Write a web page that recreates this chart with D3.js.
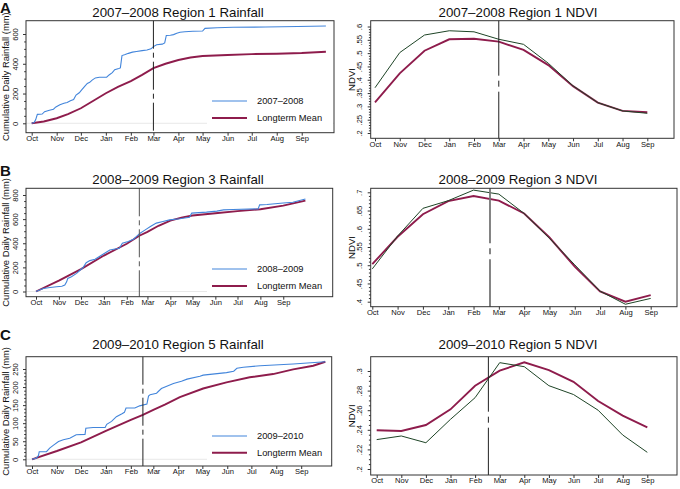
<!DOCTYPE html>
<html><head><meta charset="utf-8">
<script src="https://cdn.jsdelivr.net/npm/d3@7"></script>
<style>body{margin:0;background:#fff} text{font-family:"Liberation Sans",Arial,Helvetica,sans-serif;fill:#111}</style>
</head><body><svg id="c" width="680" height="489"></svg>
<script>
// ---------------- DATA ----------------
const months = ["Oct","Nov","Dec","Jan","Feb","Mar","Apr","May","Jun","Jul","Aug","Sep"];
const monthStartDays = [0,31,61,92,123,151,182,212,243,273,304,335];
const panelLetters = ["A","B","C"];
const rainTitles = ["2007–2008 Region 1 Rainfall","2008–2009 Region 3 Rainfall","2009–2010 Region 5 Rainfall"];
const ndviTitles = ["2007–2008 Region 1 NDVI","2008–2009 Region 3 NDVI","2009–2010 Region 5 NDVI"];
const seasonLabels = ["2007–2008","2008–2009","2009–2010"];
const meanLabel = "Longterm Mean";
const cutoffDays = [151,140,138];
const cutoffMonthIdx = [5,4.65,4.54];

// cumulative rainfall [day since Oct 1, mm]
const rainA_year = [[0,0],[3,5],[5,25],[7,60],[13,62],[16,78],[22,88],[27,95],[30,110],[35,125],[40,135],[44,140],[48,152],[52,160],[55,190],[59,205],[62,225],[66,250],[69,268],[72,275],[75,290],[79,305],[84,309],[93,310],[96,325],[100,340],[103,360],[108,368],[110,372],[112,455],[116,462],[120,470],[125,478],[130,482],[137,488],[143,492],[148,500],[151,515],[155,528],[162,532],[165,540],[167,590],[172,592],[176,596],[180,605],[184,612],[190,615],[200,618],[212,620],[215,638],[230,642],[250,645],[290,647],[330,650],[365,654]];
const rainA_mean = [[0,0],[15,12],[31,34],[45,62],[61,101],[76,150],[92,202],[107,245],[123,284],[137,325],[151,370],[166,400],[182,425],[197,442],[212,452],[243,459],[273,465],[304,467],[335,472],[365,481]];
const rainB_year = [[0,0],[10,25],[19,33],[28,39],[35,44],[39,53],[41.5,80],[43,108],[48,122],[55,150],[60,178],[64,200],[68,239],[73,256],[80,267],[87,294],[93,317],[100,344],[107,353],[113,358],[117,400],[125,414],[132,433],[137,461],[141,483],[148,511],[155,539],[163,567],[172,581],[181,594],[195,603],[208,615],[211,650],[231,658],[245,666],[254,677],[267,680],[301,685],[303,718],[313,721],[335,734],[348,740],[365,767]];
const rainB_mean = [[0,0],[31,90],[61,186],[92,298],[123,396],[140,462],[151,495],[166,545],[182,587],[197,612],[212,630],[243,649],[273,666],[304,682],[335,712],[365,753]];
const rainC_year = [[0,0],[5,3],[8,10],[9,21],[18,21],[22,31],[26,38],[33,49],[39,54],[47,58],[55,68],[66,69],[67,86],[76,88],[91,88],[93,97],[99,105],[105,118],[112,126],[115,130],[117,142],[128,142],[134,148],[143,153],[145,175],[147,179],[155,183],[161,196],[176,210],[186,216],[193,222],[209,230],[213,233],[242,240],[251,244],[255,252],[263,255],[284,259],[325,264],[365,270]];
const rainC_mean = [[0,0],[31,23],[61,47],[92,79],[123,109],[138,123],[151,137],[166,152],[184,172],[213,196],[242,213],[271,227],[300,236],[325,249],[350,259],[365,270]];
const rainA_ticks = [0,200,400,600];
const rainB_ticks = [0,200,400,600,800];
const rainC_ticks = [0,50,100,150,200,250];

// monthly NDVI
const ndviA_year = [.370,.502,.568,.584,.580,.552,.533,.462,.377,.314,.283,.274];
const ndviA_mean = [.315,.424,.509,.552,.554,.543,.512,.455,.376,.314,.283,.278];
const ndviB_year = [.490,.580,.656,.677,.706,.695,.642,.574,.501,.429,.393,.409];
const ndviB_mean = [.503,.578,.640,.676,.690,.677,.642,.576,.496,.428,.400,.418];
const ndviC_year = [.230,.2337,.2268,.2507,.2728,.3085,.3044,.285,.276,.260,.2347,.217];
const ndviC_mean = [.2395,.2388,.2449,.2609,.285,.3003,.3089,.301,.289,.2694,.2544,.2425];
const ndviA_ticks = [.2,.25,.3,.35,.4,.45,.5,.55,.6];
const ndviB_ticks = [.4,.45,.5,.55,.6,.65,.7];
const ndviC_ticks = [.2,.22,.24,.26,.28,.3];

// ---------------- LAYOUT ----------------
const BLUE = "#4285db", MAROON = "#8e1c4c", GREEN = "#1e4426", FRAME = "#333";
const svg = d3.select("#c");

const rainCfg = [
  {year:rainA_year, mean:rainA_mean, ticks:rainA_ticks, minor:50, fr:[26,20.7,334,132.7], xr:[31.7,325.9], yr:[123.3,34], yd:[0,600], leg:[101,118], cut:"#222", titleY:16.5, letterY:13},
  {year:rainB_year, mean:rainB_mean, ticks:rainB_ticks, minor:50, fr:[26,188.3,332.7,296.7], xr:[36,305.4], yr:[291.5,195], yd:[0,800], leg:[269,286], cut:"#555", titleY:183.5, letterY:176},
  {year:rainC_year, mean:rainC_mean, ticks:rainC_ticks, minor:10, fr:[26,356.7,331.7,466], xr:[32,325.3], yr:[459.3,369], yd:[0,250], leg:[436,452.7], cut:"#222", titleY:348.5, letterY:340}
];
const ndviCfg = [
  {year:ndviA_year, mean:ndviA_mean, ticks:ndviA_ticks, minor:.01, fr:[370.7,20.7,674,138.3], xr:[375,647.3], yr:[133,26.5], yd:[.2,.6], cut:"#222", cw:1, titleY:16.5},
  {year:ndviB_year, mean:ndviB_mean, ticks:ndviB_ticks, minor:.01, fr:[370.7,188.3,677,306.7], xr:[372.3,650.7], yr:[301.7,192.3], yd:[.4,.7], cut:"#777", cw:1.8, titleY:183.5},
  {year:ndviC_year, mean:ndviC_mean, ticks:ndviC_ticks, minor:.005, fr:[370.7,356.7,677,475], xr:[376.7,647.3], yr:[469,371], yd:[.2,.3], cut:"#222", cw:1, titleY:348.5}
];

function fmtNdvi(v){ return d3.format(".2~f")(v).replace(/^0/,""); }

function drawAxes(g, c, x, tickVals, tickLabels, yFmt, minorVals){
  const [x0,y0,x1,y1] = c.fr;
  const xa = g.append("g").attr("transform",`translate(0,${y1})`)
    .call(d3.axisBottom(x).tickValues(tickVals).tickSize(3).tickFormat((d,i)=>tickLabels[i]));
  xa.select(".domain").remove();
  xa.selectAll("line").attr("stroke",FRAME);
  xa.selectAll("text").attr("font-size",7.6).attr("dy","0.45em").attr("y",5).style("fill","#111");
  const y = c.y;
  const ya = g.append("g").attr("transform",`translate(${x0},0)`)
    .call(d3.axisLeft(y).tickValues(c.ticks).tickSize(3).tickFormat(yFmt));
  ya.select(".domain").remove();
  ya.selectAll("line").attr("stroke",FRAME);
  ya.selectAll("text").attr("font-size",7.6).attr("text-anchor","middle").attr("dy",null)
    .attr("x",null).attr("transform","translate(-8.5,0) rotate(-90)").style("fill","#111");
  const minor = g.append("g").attr("transform",`translate(${x0},0)`)
    .call(d3.axisLeft(y).tickValues(minorVals).tickSize(1.8).tickFormat(""));
  minor.select(".domain").remove();
  minor.selectAll("line").attr("stroke",FRAME);
}

function rangeVals(a,b,s){ const out=[]; for(let v=a; v<=b+1e-9; v+=s) out.push(+v.toFixed(4)); return out; }

rainCfg.forEach((c,i)=>{
  const g = svg.append("g");
  const [x0,y0,x1,y1] = c.fr;
  const x = d3.scaleLinear().domain([0,365]).range(c.xr);
  const y = d3.scaleLinear().domain(c.yd).range(c.yr);
  c.y = y;
  g.append("line").attr("x1",x0).attr("x2",x1).attr("y1",y(0)).attr("y2",y(0)).attr("stroke","#e2e2e2").attr("stroke-width",0.8);
  const line = d3.line().x(d=>x(d[0])).y(d=>y(d[1]));
  g.append("path").datum(c.mean).attr("d",line).attr("fill","none").attr("stroke",MAROON).attr("stroke-width",1.9);
  g.append("path").datum(c.year).attr("d",line).attr("fill","none").attr("stroke",BLUE).attr("stroke-width",1.1);
  g.append("line").attr("x1",x(cutoffDays[i])).attr("x2",x(cutoffDays[i])).attr("y1",y0).attr("y2",y1)
    .attr("stroke",c.cut).attr("stroke-width",1).attr("stroke-dasharray","28,4,5,4");
  g.append("rect").attr("x",207).attr("y",c.leg[0]-10).attr("width",x1-208).attr("height",y1-c.leg[0]+9).attr("fill","#fff");
  const items = [[seasonLabels[i],BLUE,1.1],[meanLabel,MAROON,1.9]];
  items.forEach((it,k)=>{
    const ly = c.leg[k];
    g.append("line").attr("x1",212).attr("x2",247).attr("y1",ly).attr("y2",ly).attr("stroke",it[1]).attr("stroke-width",it[2]);
    g.append("text").attr("x",257).attr("y",ly+3.3).attr("font-size",9.3).text(it[0]);
  });
  g.append("rect").attr("x",x0).attr("y",y0).attr("width",x1-x0).attr("height",y1-y0).attr("fill","none").attr("stroke",FRAME).attr("stroke-width",1);
  drawAxes(g, c, x, monthStartDays, months, d3.format("d"), rangeVals(c.yd[0], c.ticks[c.ticks.length-1], c.minor).filter(v=>!c.ticks.includes(v)));
  g.append("text").attr("x",178).attr("y",c.titleY).attr("text-anchor","middle").attr("font-size",13.3).text(rainTitles[i]);
  g.append("text").attr("transform",`translate(8.6,${(y0+y1)/2}) rotate(-90)`).attr("text-anchor","middle").attr("font-size",9.4).text("Cumulative Daily Rainfall (mm)");
  g.append("text").attr("x",0).attr("y",c.letterY).attr("font-size",15).attr("font-weight","bold").text(panelLetters[i]);
});

ndviCfg.forEach((c,i)=>{
  const g = svg.append("g");
  const [x0,y0,x1,y1] = c.fr;
  const x = d3.scaleLinear().domain([0,11]).range(c.xr);
  const y = d3.scaleLinear().domain(c.yd).range(c.yr);
  c.y = y;
  const line = d3.line().x((d,k)=>x(k)).y(d=>y(d));
  g.append("path").datum(c.mean).attr("d",line).attr("fill","none").attr("stroke",MAROON).attr("stroke-width",1.9);
  g.append("path").datum(c.year).attr("d",line).attr("fill","none").attr("stroke",GREEN).attr("stroke-width",1);
  g.append("line").attr("x1",x(cutoffMonthIdx[i])).attr("x2",x(cutoffMonthIdx[i])).attr("y1",y0).attr("y2",y1)
    .attr("stroke",c.cut).attr("stroke-width",c.cw).attr("stroke-dasharray","55,5,6,5");
  g.append("rect").attr("x",x0).attr("y",y0).attr("width",x1-x0).attr("height",y1-y0).attr("fill","none").attr("stroke",FRAME).attr("stroke-width",1);
  drawAxes(g, c, x, d3.range(12), months, fmtNdvi, rangeVals(c.yd[0], c.ticks[c.ticks.length-1], c.minor).filter(v=>!c.ticks.some(t=>Math.abs(t-v)<1e-6)));
  g.append("text").attr("x",518).attr("y",c.titleY).attr("text-anchor","middle").attr("font-size",13.3).text(ndviTitles[i]);
  g.append("text").attr("transform",`translate(354.5,${(y0+y1)/2}) rotate(-90)`).attr("text-anchor","middle").attr("font-size",9.6).text("NDVI");
});
</script></body></html>
